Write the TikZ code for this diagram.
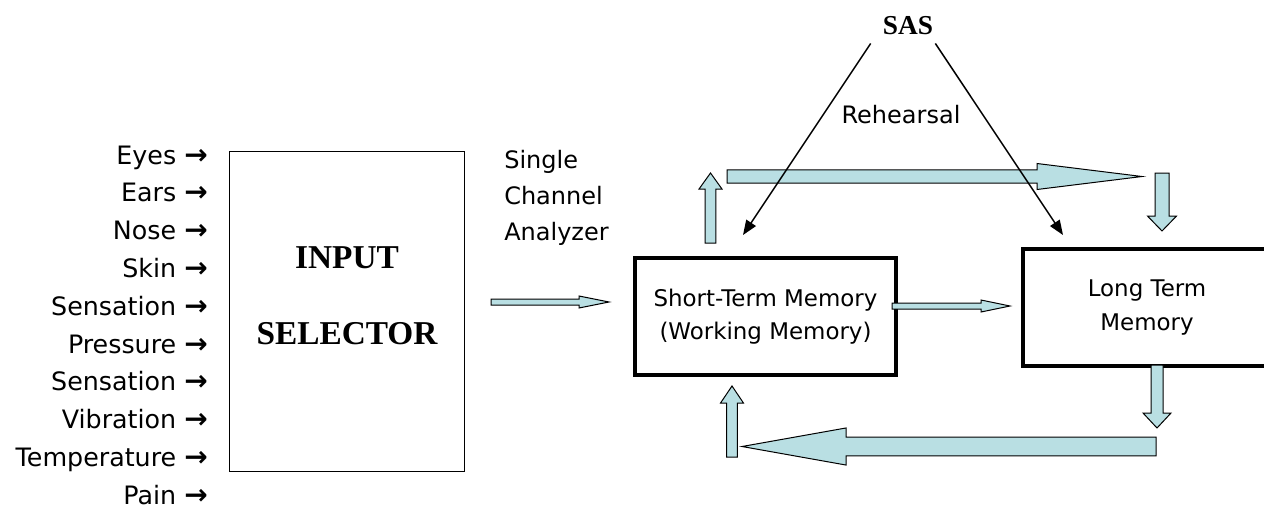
\documentclass[tikz,border=0pt]{standalone}
\usepackage{fontspec}
\setmainfont{Liberation Serif}
\newfontfamily\comicfont{DejaVu Sans}
\usepackage{tikz}
\usetikzlibrary{arrows.meta,positioning,calc}
\definecolor{memblue}{RGB}{185,223,227}

% block arrow: #1 from, #2 to, #3 half shaft, #4 half head, #5 head length
\newcommand{\blockarrow}[5]{%
  \coordinate (headbase) at ($(#2)!#5!(#1)$);
  \draw[fat] ($(#1)!#3!90:(#2)$) -- ($(headbase)!#3!90:(#2)$) -- ($(headbase)!#4!90:(#2)$)
    -- (#2) -- ($(headbase)!#4!-90:(#2)$) -- ($(headbase)!#3!-90:(#2)$) -- ($(#1)!#3!-90:(#2)$) -- cycle;
}

\begin{document}
\begin{tikzpicture}[
    >=Stealth, x=0.75pt, y=-0.75pt,
    sense/.style={font=\comicfont\fontsize{19}{19}\selectfont, inner sep=0pt, anchor=base east},
    note/.style={font=\comicfont\fontsize{18}{18}\selectfont, inner sep=0pt},
    heading/.style={font=\bfseries\fontsize{25}{25}\selectfont, inner sep=0pt, anchor=base},
    memory/.style={draw, line width=3pt, minimum height=87.75pt, align=center, inner sep=0pt,
                   font=\comicfont\fontsize{17.2}{25}\selectfont},
    fat/.style={draw, fill=memblue, line width=0.75pt, line join=miter},
    sasflow/.style={-{Triangle[length=11pt,width=8.5pt]}, line width=1.1pt}
]
\useasboundingbox (0,0) rectangle (1264,508);

% ===== SENSES =====
\foreach \s [count=\i from 0] in {Eyes,Ears,Nose,Skin,Sensation,Pressure,Sensation,Vibration,Temperature,Pain}
  \node[sense] (sense\i) at (208,164+37.8*\i) {\s\ {\bfseries\fontsize{21}{21}\selectfont →}};

% ===== INPUT SELECTOR =====
\node[draw, line width=0.9pt, minimum width=176.25pt, minimum height=240pt] (sel) at (347,311.5) {};
\node[heading] (input) at (347,268) {INPUT};
\node[heading] (selector) at (347,344) {SELECTOR};

\foreach \w [count=\i] in {Single,Channel,Analyzer}
  \node[note, anchor=base west] (sca\i) at (504,132+36*\i) {\w};

% ===== MEMORY =====
\node[memory, minimum width=195.75pt] (stm) at (765.5,316.5) {Short-Term Memory\\(Working Memory)};
\node[memory, minimum width=186pt] (ltm) at (1147,307.5) {Long Term\\Memory};

\node[font=\bfseries\fontsize{20.5}{20.5}\selectfont, inner sep=0pt] (sas) at (908,26) {SAS};
\node[note] (rehearsal) at (901,115) {Rehearsal};

% ===== BLOCK ARROWS =====
\coordinate (inS) at (491,302);   \coordinate (inE) at (609,302);
\coordinate (mvS) at (892,306);   \coordinate (mvE) at (1010,306);
\coordinate (upS) at (710.5,243); \coordinate (upE) at (710.5,173);
\coordinate (reS) at (727,176.5); \coordinate (reE) at (1142,176.5);
\coordinate (dnS) at (1162,173);  \coordinate (dnE) at (1162,231);
\coordinate (ltS) at (1157,365);  \coordinate (ltE) at (1157,428);
\coordinate (bkS) at (1156,446.5); \coordinate (bkE) at (742,446.5);
\coordinate (rtS) at (732,457);   \coordinate (rtE) at (732,386);

\blockarrow{inS}{inE}{2.25pt}{4.5pt}{22.5pt}
\blockarrow{mvS}{mvE}{2.25pt}{4.5pt}{21.75pt}
\blockarrow{upS}{upE}{4.1pt}{8.6pt}{12pt}
\blockarrow{reS}{reE}{4.9pt}{9.75pt}{78.75pt}
\blockarrow{dnS}{dnE}{5.25pt}{10.9pt}{11.25pt}
\blockarrow{ltS}{ltE}{4.5pt}{10.5pt}{11.25pt}
\blockarrow{bkS}{bkE}{7.1pt}{13.9pt}{78pt}
\blockarrow{rtS}{rtE}{4.1pt}{8.6pt}{12.75pt}

% ===== SAS =====
\coordinate (stmcue) at (743,235);
\coordinate (ltmcue) at (1063,235);
\draw[sasflow] ($(sas.south west)+(-12,8)$) -- (stmcue);
\draw[sasflow] ($(sas.south east)+(2,8)$) -- (ltmcue);

\end{tikzpicture}
\end{document}
